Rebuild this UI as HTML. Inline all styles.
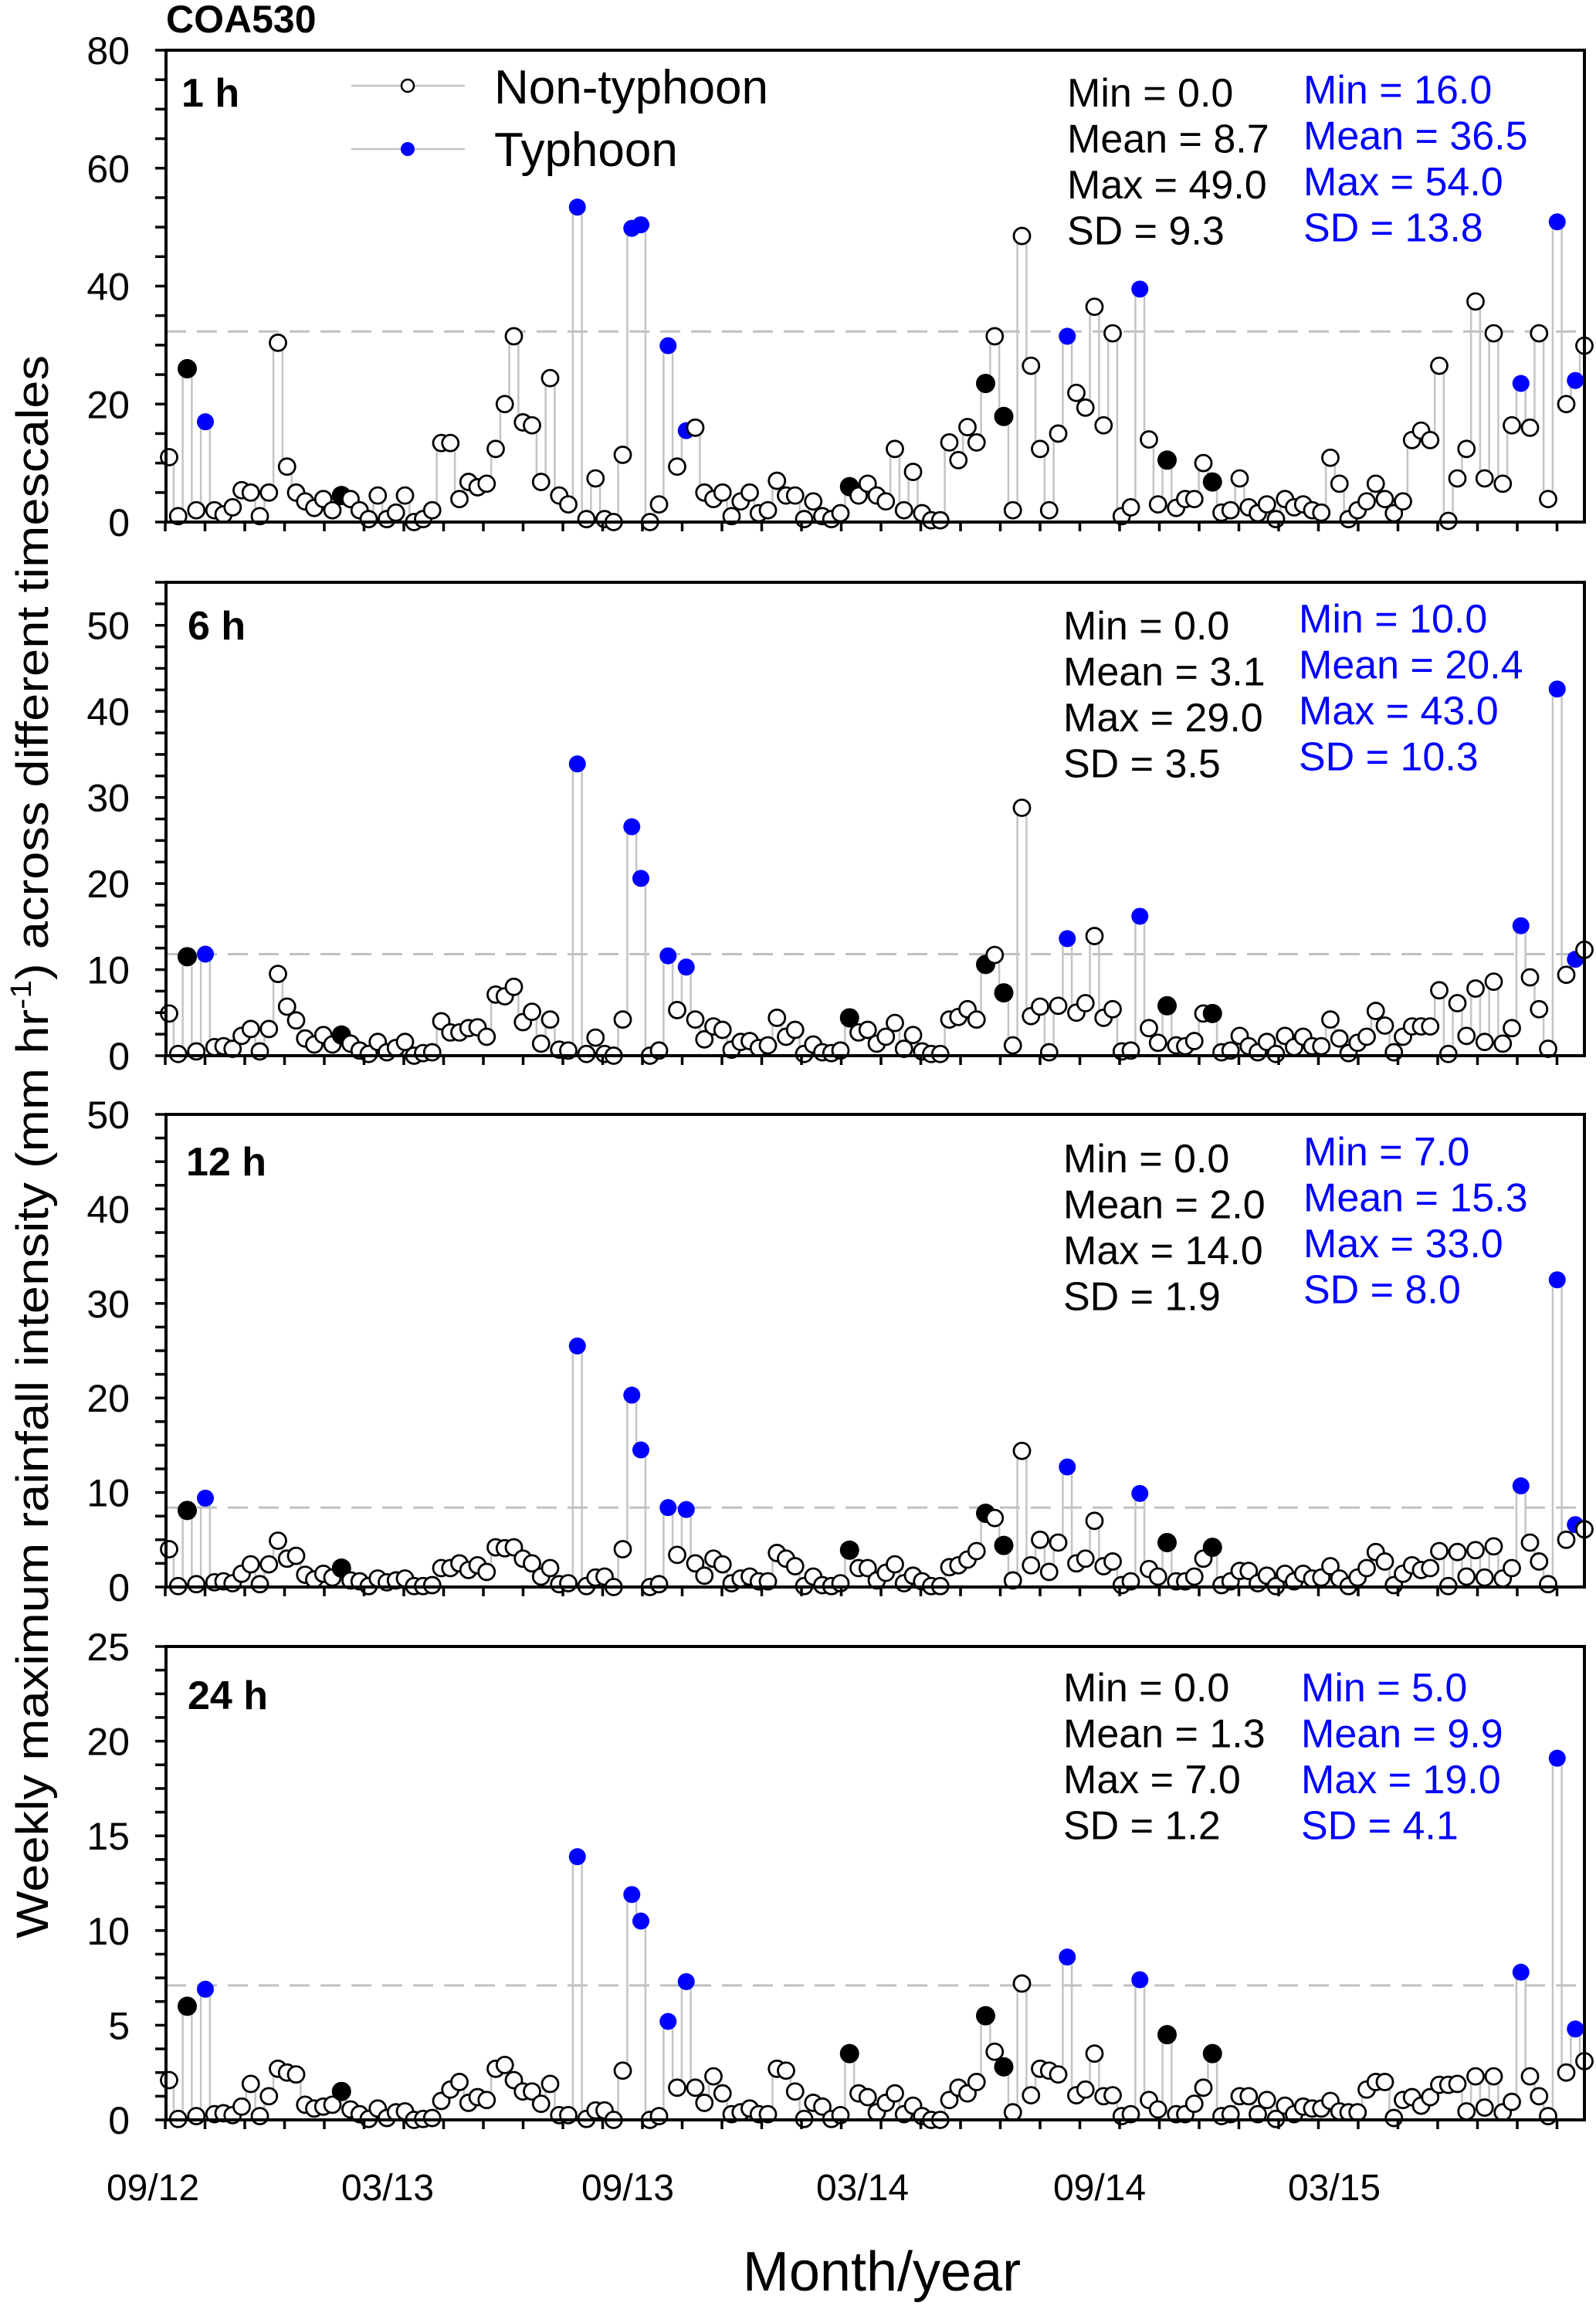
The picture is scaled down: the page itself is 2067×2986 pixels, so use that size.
<!DOCTYPE html>
<html>
<head>
<meta charset="utf-8">
<style>
  html, body { margin: 0; padding: 0; background: #fff; }
  svg { display: block; }
  text { font-family: "Liberation Sans", Arial, sans-serif; }
</style>
</head>
<body>
<svg id="chart" xmlns="http://www.w3.org/2000/svg" width="2067" height="2986" viewBox="0 0 2067 2986">
  <text x="215" y="42" font-size="50" font-weight="bold">COA530</text>
  <text transform="translate(62,1485) rotate(-90)" text-anchor="middle" font-size="58" textLength="2050" lengthAdjust="spacingAndGlyphs">Weekly maximum rainfall intensity (mm hr<tspan dy="-22" font-size="38">-1</tspan><tspan dy="22">) across different timescales</tspan></text>
  <text x="1142" y="2966" text-anchor="middle" font-size="72">Month/year</text>
  <g id="panels"></g>
</svg>
<script>
// ---- Data ----
const weekCount = 157;
const typhoonWeeks = [5,46,52,53,56,58,100,108,150,154,156];
const blackWeeks = [3,20,76,91,93,111,116];
const values1h = [11,1,26,2,17,2,1.3,2.5,5.4,5,1,5,30.4,9.4,5,3.5,2.4,3.9,2,4.5,3.9,2,0.5,4.5,0.5,1.6,4.5,0,0.5,2,13.4,13.4,3.9,6.8,5.9,6.5,12.4,20,31.5,16.9,16.4,6.8,24.4,4.5,3,53.4,0.5,7.4,0.5,0,11.4,49.8,50.4,0,3,29.9,9.4,15.5,16,5,3.9,5,1,3.5,5,1.5,2,7,4.5,4.5,0.5,3.5,1,0.5,1.5,6,4.5,6.5,4.5,3.5,12.4,2,8.5,1.5,0.3,0.3,13.5,10.5,16.1,13.5,23.5,31.5,17.9,2,48.5,26.5,12.4,2,15,31.5,21.9,19.4,36.5,16.4,32,1,2.5,39.5,14,3,10.5,2.4,3.9,3.9,10,6.8,1.6,2,7.4,2.5,1.5,3,0.5,3.9,2.5,3,2,1.6,10.9,6.5,0.5,2,3.5,6.5,3.9,1.5,3.5,13.9,15.5,13.9,26.5,0.2,7.4,12.4,37.4,7.4,32,6.5,16.4,23.5,16,32,3.9,50.9,20,24,29.9];
const values6h = [4.9,0.2,11.5,0.5,11.8,1,1.1,0.8,2.3,3.1,0.5,3.1,9.5,5.7,4.1,2,1.3,2.4,1.3,2.4,1.4,0.6,0.2,1.6,0.4,0.9,1.6,0,0.3,0.4,4,2.7,2.7,3.2,3.3,2.2,7.1,6.9,8,3.9,5.1,1.4,4.2,0.7,0.6,33.9,0.2,2.1,0.2,0,4.2,26.6,20.6,0,0.6,11.6,5.3,10.3,4.2,1.9,3.4,3,0.7,1.6,1.7,0.9,1.2,4.4,2.2,3,0.2,1.3,0.4,0.3,0.6,4.4,2.7,3,1.4,2.2,3.8,0.8,2.4,0.5,0.2,0.2,4.2,4.5,5.4,4.2,10.6,11.7,7.3,1.2,28.8,4.6,5.7,0.4,5.8,13.6,5,6.1,13.9,4.4,5.4,0.5,0.6,16.2,3.2,1.5,5.8,1.2,1.1,1.7,4.9,4.9,0.4,0.6,2.3,1.1,0.4,1.6,0.2,2.3,1,2.2,1.1,1.1,4.2,2,0.3,1.5,2.2,5.2,3.5,0.4,2.2,3.4,3.4,3.4,7.6,0.2,6.1,2.3,7.8,1.6,8.6,1.4,3.2,15.1,9.1,5.4,0.8,42.6,9.4,11.2,12.3];
const values12h = [4,0.1,8.1,0.3,9.4,0.5,0.6,0.4,1.4,2.4,0.3,2.4,4.9,3,3.3,1.3,0.8,1.4,1,2,0.7,0.6,0.1,0.9,0.5,0.7,0.9,0.1,0.1,0.2,2,2,2.5,1.8,2.3,1.6,4.2,4.1,4.2,3,2.5,1.1,2,0.3,0.4,25.5,0.1,1,1.1,0,4,20.3,14.5,0,0.3,8.4,3.4,8.2,2.5,1.2,3,2.4,0.4,0.9,1.1,0.6,0.6,3.6,3,2.2,0.1,1.1,0.2,0.1,0.4,3.9,2,2,0.7,1.5,2.4,0.4,1.2,0.6,0.1,0.1,2.1,2.3,2.9,3.8,7.8,7.3,4.4,0.7,14.4,2.3,5,1.6,4.7,12.7,2.5,3,7,2.2,2.7,0.2,0.6,9.9,1.9,1.1,4.7,0.6,0.6,1.1,3,4.2,0.2,0.6,1.7,1.7,0.4,1.2,0.1,1.4,0.6,1.4,0.9,1,2.2,0.9,0.1,1,2,3.7,2.7,0.2,1.4,2.3,1.8,2,3.8,0.1,3.7,1.1,3.9,1,4.3,0.9,2,10.7,4.7,2.7,0.3,32.5,5,6.6,6.1];
const values24h = [2.1,0.05,6,0.2,6.9,0.3,0.35,0.25,0.7,1.9,0.2,1.25,2.7,2.5,2.4,0.8,0.6,0.7,0.8,1.5,0.55,0.3,0.05,0.6,0.1,0.4,0.45,0,0.05,0.1,1,1.6,2,0.9,1.2,1.05,2.7,2.9,2.1,1.5,1.5,0.85,1.9,0.25,0.25,13.9,0.05,0.5,0.5,0,2.6,11.9,10.5,0,0.2,5.2,1.7,7.3,1.7,0.9,2.3,1.4,0.3,0.4,0.6,0.3,0.3,2.7,2.6,1.5,0.05,0.9,0.7,0.05,0.25,3.5,1.4,1.2,0.4,0.9,1.4,0.3,0.75,0.2,0,0,1.05,1.7,1.4,2,5.5,3.6,2.8,0.4,7.2,1.3,2.7,2.6,2.4,8.6,1.3,1.6,3.5,1.25,1.3,0.2,0.3,7.4,1.05,0.55,4.5,0.3,0.3,0.85,1.7,3.5,0.2,0.3,1.25,1.25,0.3,1.05,0.05,0.75,0.3,0.7,0.6,0.6,1,0.45,0.4,0.4,1.6,2,2,0.1,1.05,1.2,0.75,1.2,1.85,1.85,1.9,0.45,2.3,0.65,2.3,0.4,0.95,7.8,2.3,1.25,0.2,19.1,2.5,4.8,3.1];
const thresholds = [32.3, 11.8, 8.4, 7.1];
const ticks1h = [0,20,40,60,80];
const ticks6h = [0,10,20,30,40,50];
const ticks12h = [0,10,20,30,40,50];
const ticks24h = [0,5,10,15,20,25];
const xTickLabels = ["09/12","03/13","09/13","03/14","09/14","03/15"];
const panelLabels = ["1 h","6 h","12 h","24 h"];
const statsNon = [["Min = 0.0","Mean = 8.7","Max = 49.0","SD = 9.3"],["Min = 0.0","Mean = 3.1","Max = 29.0","SD = 3.5"],["Min = 0.0","Mean = 2.0","Max = 14.0","SD = 1.9"],["Min = 0.0","Mean = 1.3","Max = 7.0","SD = 1.2"]];
const statsTy = [["Min = 16.0","Mean = 36.5","Max = 54.0","SD = 13.8"],["Min = 10.0","Mean = 20.4","Max = 43.0","SD = 10.3"],["Min = 7.0","Mean = 15.3","Max = 33.0","SD = 8.0"],["Min = 5.0","Mean = 9.9","Max = 19.0","SD = 4.1"]];

// ---- Layout ----
const NS = "http://www.w3.org/2000/svg";
const L = 215, R = 2052;
const panels = [
  {top:65, bot:676, max:80, minor:5, vals:values1h, ticks:ticks1h, lab:[235,138], sx:1382, sy:138, tx:1688, ty:134},
  {top:754, bot:1367, max:55, minor:2.5, vals:values6h, ticks:ticks6h, lab:[243,828], sx:1377, sy:828, tx:1682, ty:819},
  {top:1443, bot:2055, max:50, minor:2.5, vals:values12h, ticks:ticks12h, lab:[241,1522], sx:1377, sy:1518, tx:1688, ty:1509},
  {top:2132, bot:2745, max:25, minor:1.25, vals:values24h, ticks:ticks24h, lab:[243,2213], sx:1377, sy:2203, tx:1685, ty:2203}
];
const xLabelPos = [198, 502, 813, 1117, 1424, 1728];
const root = document.getElementById('panels');
function mk(tag, attrs, parent) {
  const e = document.createElementNS(NS, tag);
  for (const k in attrs) e.setAttribute(k, attrs[k]);
  (parent || root).appendChild(e);
  return e;
}
function xScale(i) { return 219 + i * (2052 - 219) / (weekCount - 1); }

panels.forEach((p, pi) => {
  const g = mk('g', {});
  
  
  const y = v => p.bot - v / p.max * (p.bot - p.top);

  // threshold dashed line
  const th = mk('line', {x1:L, x2:R, y1:y(thresholds[pi]), y2:y(thresholds[pi]), stroke:'#c0c0c0', 'stroke-width':3, 'stroke-dasharray':'26,14'}, g);
  
  

  // step connector
  let d = '';
  for (let i = 0; i < weekCount; i++) {
    const xl = i === 0 ? xScale(0) : (xScale(i - 1) + xScale(i)) / 2;
    const xr = i === weekCount - 1 ? xScale(i) : (xScale(i) + xScale(i + 1)) / 2;
    d += (i === 0 ? 'M' : 'L') + xl.toFixed(1) + ',' + y(p.vals[i]).toFixed(1) + 'L' + xr.toFixed(1) + ',' + y(p.vals[i]).toFixed(1);
  }
  const ln = mk('path', {d:d, fill:'none', stroke:'#c4c4c4', 'stroke-width':2.5}, g);
  
  

  // markers
  for (let i = 0; i < weekCount; i++) {
    const wk = i + 1;
    const cx = xScale(i), cy = y(p.vals[i]);
    let c;
    if (typhoonWeeks.includes(wk)) {
      c = mk('circle', {cx:cx, cy:cy, r:11, fill:'#0000ff'}, g);
      
    } else if (blackWeeks.includes(wk)) {
      c = mk('circle', {cx:cx, cy:cy, r:12.5, fill:'#000'}, g);
      
    } else {
      c = mk('circle', {cx:cx, cy:cy, r:10.5, fill:'#fff', stroke:'#000', 'stroke-width':2.8}, g);
      
    }
    
  }

  // frame
  const fr = mk('rect', {x:L, y:p.top, width:R - L, height:p.bot - p.top, fill:'none', stroke:'#000', 'stroke-width':4}, g);
  
  

  // y ticks
  for (let v = 0; v <= p.max + 1e-6; v += p.minor) {
    mk('line', {x1:L - 14, x2:L, y1:y(v), y2:y(v), stroke:'#000', 'stroke-width':3.5}, g);
  }
  p.ticks.forEach(t => {
    const tl = mk('text', {x:168, y:y(t) + 18, 'text-anchor':'end', 'font-size':50}, g);
    tl.textContent = t;
    
    
  });
  // x ticks
  for (let x = 214; x <= R + 1; x += 51.5) {
    mk('line', {x1:x, x2:x, y1:p.bot, y2:p.bot + 12, stroke:'#000', 'stroke-width':3.5}, g);
  }

  // panel label
  const pl = mk('text', {x:p.lab[0], y:p.lab[1], 'font-size':52, 'font-weight':'bold'}, g);
  pl.textContent = panelLabels[pi];
  
  

  // stats
  statsNon[pi].forEach((s, k) => {
    const t = mk('text', {x:p.sx, y:p.sy + k * 59.5, 'font-size':52, fill:'#000'}, g);
    t.textContent = s;
    
    
  });
  statsTy[pi].forEach((s, k) => {
    const t = mk('text', {x:p.tx, y:p.ty + k * 59.5, 'font-size':52, fill:'#0000ff'}, g);
    t.textContent = s;
    
    
  });
});

// x tick labels
xTickLabels.forEach((s, k) => {
  const t = mk('text', {x:xLabelPos[k], y:2849, 'text-anchor':'middle', 'font-size':48});
  t.textContent = s;
  
  
});

// legend
const lg = mk('g', {});


mk('line', {x1:455, x2:602, y1:111, y2:111, stroke:'#c4c4c4', 'stroke-width':2.5}, lg);
mk('circle', {cx:528, cy:111, r:8, fill:'#fff', stroke:'#000', 'stroke-width':2.5}, lg);
const lt1 = mk('text', {x:640, y:134, 'font-size':62}, lg);
lt1.textContent = 'Non-typhoon';


mk('line', {x1:455, x2:602, y1:193, y2:193, stroke:'#c4c4c4', 'stroke-width':2.5}, lg);
mk('circle', {cx:528, cy:193, r:9, fill:'#0000ff'}, lg);
const lt2 = mk('text', {x:640, y:215, 'font-size':62}, lg);
lt2.textContent = 'Typhoon';


</script>
</body>
</html>
